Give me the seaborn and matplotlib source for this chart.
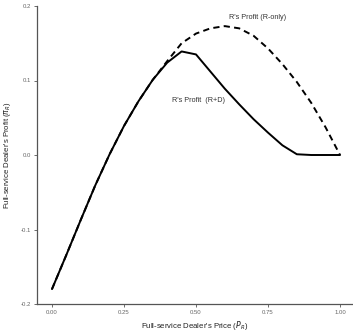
import numpy as np
import pandas as pd
import matplotlib
matplotlib.use("Agg")
import matplotlib.pyplot as plt
import seaborn as sns

# Full-service dealer's price grid
price = [0.00, 0.05, 0.10, 0.15, 0.20, 0.25, 0.30, 0.35, 0.40, 0.45,
         0.50, 0.55, 0.60, 0.65, 0.70, 0.75, 0.80, 0.85, 0.90, 0.95, 1.00]

# Profit when only the full-service dealer (R) is in the market
profit_r_only = [-0.180, -0.134, -0.087, -0.041, 0.001, 0.039, 0.072, 0.101, 0.126, 0.150,
                 0.163, 0.170, 0.173, 0.170, 0.160, 0.143, 0.122, 0.098, 0.070, 0.037, 0.000]

# Profit when R competes with the discounter (R+D)
profit_r_d = [-0.180, -0.134, -0.087, -0.041, 0.001, 0.039, 0.072, 0.101, 0.124, 0.139,
              0.135, 0.112, 0.089, 0.068, 0.048, 0.030, 0.013, 0.001, 0.000, 0.000, 0.000]

series_names = ["R-only", "R+D"]
label_r_only = "R's Profit (R-only)"
label_r_d = "R's Profit  (R+D)"

x_ticks = [0.00, 0.25, 0.50, 0.75, 1.00]
x_tick_labels = ["0.00", "0.25", "0.50", "0.75", "1.00"]
y_ticks = [-0.2, -0.1, 0.0, 0.1, 0.2]
y_tick_labels = ["-0.2", "-0.1", "0.0", "0.1", "0.2"]

df = pd.DataFrame({
    "price": price * 2,
    "profit": profit_r_only + profit_r_d,
    "scenario": [series_names[0]] * len(price) + [series_names[1]] * len(price),
})

sns.set_theme(style="white")
plt.rcParams["font.family"] = ["Liberation Sans", "DejaVu Sans"]

fig = plt.figure(figsize=(3.53, 3.32), dpi=100)
ax = fig.add_axes([37 / 353, 28 / 332, 316 / 353, 298 / 332])

sns.lineplot(data=df, x="price", y="profit", style="scenario",
             style_order=["R+D", "R-only"],
             dashes={"R+D": "", "R-only": (3.2, 2.2)},
             color="black", linewidth=1.4, legend=False, ax=ax)

ax.set_xlim(-0.052, 1.045)
ax.set_ylim(-0.2, 0.2)
ax.set_xticks(x_ticks)
ax.set_xticklabels(x_tick_labels)
ax.set_yticks(y_ticks)
ax.set_yticklabels(y_tick_labels)

for side in ["top", "right"]:
    ax.spines[side].set_visible(False)
for side in ["left", "bottom"]:
    ax.spines[side].set_color("#555555")
    ax.spines[side].set_linewidth(0.9)

ax.tick_params(axis="both", which="major", length=2, width=0.6, color="#555555",
               labelsize=4.3, labelcolor="#666666", pad=2, direction="out",
               bottom=True, left=True)

ax.set_xlabel("Full-service Dealer's Price ($P_R$)", fontsize=5.6, color="#222222", labelpad=3)
ax.set_ylabel("Full-service Dealer's Profit ($\\pi_R$)", fontsize=5.6, color="#222222", labelpad=6)

ax.text(0.715, 0.184, label_r_only, fontsize=5.2, color="#333333", ha="center", va="center")
ax.text(0.507, 0.073, label_r_d, fontsize=5.2, color="#333333", ha="center", va="center")

fig.savefig("out.png", dpi=100)
